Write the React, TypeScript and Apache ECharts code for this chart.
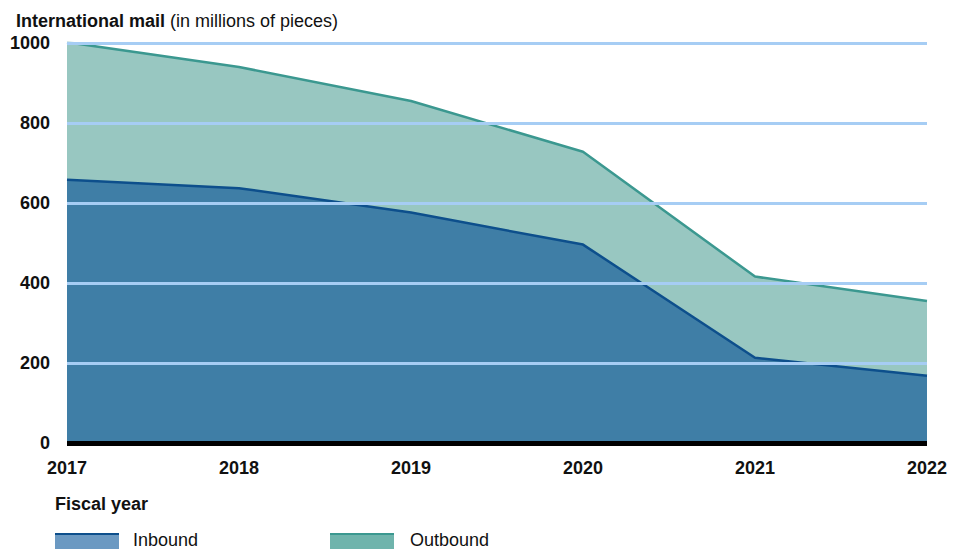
import React, { useEffect, useRef } from "react";
import * as echarts from "echarts";

const years = ["2017", "2018", "2019", "2020", "2021", "2022"];
const inbound = [658, 637, 576, 496, 213, 168];
const outbound = [344, 303, 279, 232, 203, 187];
const yTicks = [0, 200, 400, 600, 800, 1000];

const FONT = "Liberation Sans, Arial, sans-serif";

export default function App() {
  const ref = useRef<HTMLDivElement>(null);
  useEffect(() => {
    const chart = echarts.init(ref.current!, null, { renderer: "svg" });
    const gridLines = yTicks.filter((v) => v > 0).map((v) => ({ yAxis: v }));
    chart.setOption({
      animation: false,
      title: {
        text: "{b|International mail} {n|(in millions of pieces)}",
        left: 11,
        top: 7,
        textStyle: {
          rich: {
            b: { fontFamily: FONT, fontWeight: "bold", fontSize: 18, color: "#111" },
            n: { fontFamily: FONT, fontWeight: "normal", fontSize: 18, color: "#111" },
          },
        },
      },
      grid: { left: 67, right: 37, top: 43, bottom: 110 },
      xAxis: {
        type: "category",
        data: years,
        boundaryGap: false,
        axisLine: { show: true, lineStyle: { color: "#000", width: 5, cap: "butt" } },
        axisTick: { show: false },
        axisLabel: {
          fontFamily: FONT,
          fontWeight: "bold",
          fontSize: 18,
          color: "#111",
          margin: 16,
        },
        splitLine: { show: false },
        z: 10,
      },
      yAxis: {
        type: "value",
        min: 0,
        max: 1000,
        interval: 200,
        axisLine: { show: false },
        axisTick: { show: false },
        axisLabel: {
          fontFamily: FONT,
          fontWeight: "bold",
          fontSize: 18,
          color: "#111",
          margin: 17,
          formatter: (v: number) => String(v),
        },
        splitLine: { show: false },
      },
      series: [
        {
          name: "Inbound",
          type: "line",
          stack: "area",
          data: inbound,
          symbol: "none",
          lineStyle: { width: 0 },
          areaStyle: { color: "#3f7ea6", opacity: 1 },
          z: 1,
        },
        {
          name: "Outbound",
          type: "line",
          stack: "area",
          data: outbound,
          symbol: "none",
          lineStyle: { width: 0 },
          areaStyle: { color: "#98c7c1", opacity: 1 },
          z: 1,
        },
        {
          name: "grid",
          type: "line",
          data: [],
          symbol: "none",
          z: 2,
          markLine: {
            silent: true,
            symbol: ["none", "none"],
            label: { show: false },
            lineStyle: { color: "#a6cdf4", width: 3, type: "solid" },
            data: gridLines,
          },
        },
        {
          name: "InboundLine",
          type: "line",
          stack: "lines",
          data: inbound,
          symbol: "none",
          lineStyle: { color: "#0d4f8c", width: 2.5 },
          z: 3,
        },
        {
          name: "OutboundLine",
          type: "line",
          stack: "lines",
          data: outbound,
          symbol: "none",
          lineStyle: { color: "#3b9890", width: 2.5 },
          z: 3,
        },
      ],
      graphic: [
        {
          type: "text",
          left: 55,
          top: 495,
          style: {
            text: "Fiscal year",
            font: `bold 18px ${FONT}`,
            fill: "#111",
          },
        },
        { type: "rect", shape: { x: 55, y: 533, width: 64, height: 16 }, style: { fill: "#6b99c2" } },
        { type: "rect", shape: { x: 55, y: 533, width: 64, height: 2 }, style: { fill: "#0d4f8c" } },
        {
          type: "text",
          left: 133,
          top: 531,
          style: { text: "Inbound", font: `18px ${FONT}`, fill: "#111" },
        },
        { type: "rect", shape: { x: 330, y: 533, width: 64, height: 16 }, style: { fill: "#6fb4ac" } },
        { type: "rect", shape: { x: 330, y: 533, width: 64, height: 2 }, style: { fill: "#3b9890" } },
        {
          type: "text",
          left: 410,
          top: 531,
          style: { text: "Outbound", font: `18px ${FONT}`, fill: "#111" },
        },
      ],
    });
    return () => chart.dispose();
  }, []);
  return <div ref={ref} style={{ width: 964, height: 553, position: "absolute", left: 0, top: 0 }} />;
}
